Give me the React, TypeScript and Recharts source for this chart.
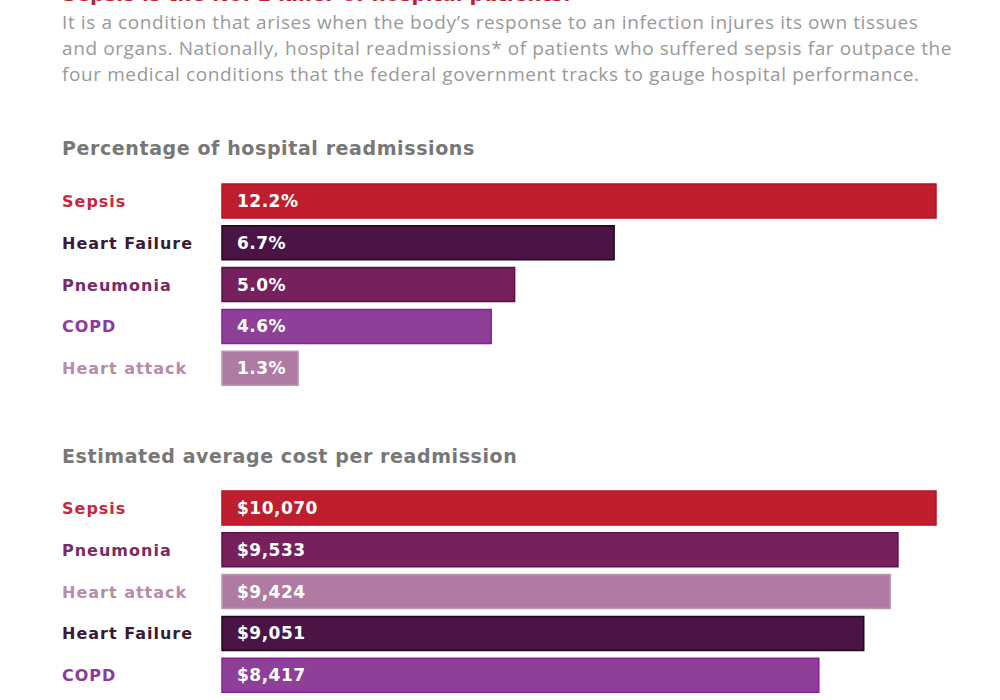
import React from "react";
import { BarChart, Bar, XAxis, YAxis, Cell, LabelList } from "recharts";

const headline = "Sepsis is the No. 1 killer of hospital patients.";
const introLines = [
  "It is a condition that arises when the body\u2019s response to an infection injures its own tissues",
  "and organs. Nationally, hospital readmissions* of patients who suffered sepsis far outpace the",
  "four medical conditions that the federal government tracks to gauge hospital performance.",
];

const rateTitle = "Percentage of hospital readmissions";
const rateCategories = ["Sepsis", "Heart Failure", "Pneumonia", "COPD", "Heart attack"];
const rateValues = [12.2, 6.7, 5.0, 4.6, 1.3];

const costTitle = "Estimated average cost per readmission";
const costCategories = ["Sepsis", "Pneumonia", "Heart attack", "Heart Failure", "COPD"];
const costValues = [10070, 9533, 9424, 9051, 8417];

const barColors: Record<string, string> = {
  Sepsis: "#be1e2d",
  "Heart Failure": "#4a1545",
  Pneumonia: "#76205e",
  COPD: "#8e3f98",
  "Heart attack": "#b07ba2",
};
const barStrokes: Record<string, string> = {
  Sepsis: "#c0101f",
  "Heart Failure": "#1e0a1c",
  Pneumonia: "#5e0f4a",
  COPD: "#8a1f98",
  "Heart attack": "#b99ab0",
};
const labelColors: Record<string, string> = {
  Sepsis: "#c42a3c",
  "Heart Failure": "#3a1a36",
  Pneumonia: "#7a2a64",
  COPD: "#8e3a9c",
  "Heart attack": "#b98aac",
};

const FONT = "'DejaVu Sans', sans-serif";

const CategoryTick = (props: any) => {
  const { y, payload } = props;
  return (
    <text
      x={62}
      y={y}
      dy={6}
      textAnchor="start"
      fontFamily={FONT}
      fontWeight={700}
      fontSize={16}
      letterSpacing={1}
      fill={labelColors[payload.value]}
    >
      {payload.value}
    </text>
  );
};

function HBar({
  names,
  values,
  format,
}: {
  names: string[];
  values: number[];
  format: (v: number) => string;
}) {
  const data = names.map((n, i) => ({ name: n, value: values[i] }));
  const max = Math.max(...values);
  return (
    <BarChart
      width={1000}
      height={209}
      layout="vertical"
      data={data}
      margin={{ top: 0, right: 64, bottom: 0, left: 62 }}
      barSize={34}
    >
      <XAxis type="number" hide domain={[0, max]} />
      <YAxis
        type="category"
        dataKey="name"
        width={160}
        axisLine={false}
        tickLine={false}
        tick={<CategoryTick />}
        interval={0}
      />
      <Bar dataKey="value" isAnimationActive={false} strokeWidth={1.5}>
        {data.map((d) => (
          <Cell key={d.name} fill={barColors[d.name]} stroke={barStrokes[d.name]} />
        ))}
        <LabelList
          dataKey="value"
          position="insideLeft"
          offset={15}
          formatter={(v: any) => format(Number(v))}
          fill="#ffffff"
          fontFamily={FONT}
          fontWeight={700}
          fontSize={17}
          letterSpacing={0.5}
        />
      </Bar>
    </BarChart>
  );
}

const sectionTitleStyle: React.CSSProperties = {
  position: "absolute",
  left: 62,
  fontFamily: FONT,
  fontWeight: 700,
  fontSize: 19,
  letterSpacing: 0.6,
  lineHeight: "24px",
  color: "#777777",
  whiteSpace: "nowrap",
};

export default function App() {
  return (
    <div
      style={{
        position: "absolute",
        left: 0,
        top: 0,
        width: 1000,
        height: 700,
        overflow: "hidden",
        background: "#fff",
      }}
    >
      <div
        style={{
          position: "absolute",
          left: 62,
          top: -18,
          fontFamily: FONT,
          fontWeight: 700,
          fontSize: 20,
          color: "#c0202f",
          whiteSpace: "nowrap",
        }}
      >
        {headline}
      </div>
      {introLines.map((line, i) => (
        <div
          key={i}
          style={{
            position: "absolute",
            left: 62,
            top: 9 + i * 26,
            fontFamily: "'Open Sans', sans-serif",
            fontSize: 19,
            letterSpacing: 0.6,
            lineHeight: "26px",
            color: "#999999",
            whiteSpace: "nowrap",
          }}
        >
          {line}
        </div>
      ))}
      <div style={{ ...sectionTitleStyle, top: 136 }}>{rateTitle}</div>
      <div style={{ position: "absolute", left: 0, top: 180 }}>
        <HBar names={rateCategories} values={rateValues} format={(v) => v.toFixed(1) + "%"} />
      </div>
      <div style={{ ...sectionTitleStyle, top: 444 }}>{costTitle}</div>
      <div style={{ position: "absolute", left: 0, top: 487 }}>
        <HBar
          names={costCategories}
          values={costValues}
          format={(v) => "$" + v.toLocaleString("en-US")}
        />
      </div>
    </div>
  );
}
